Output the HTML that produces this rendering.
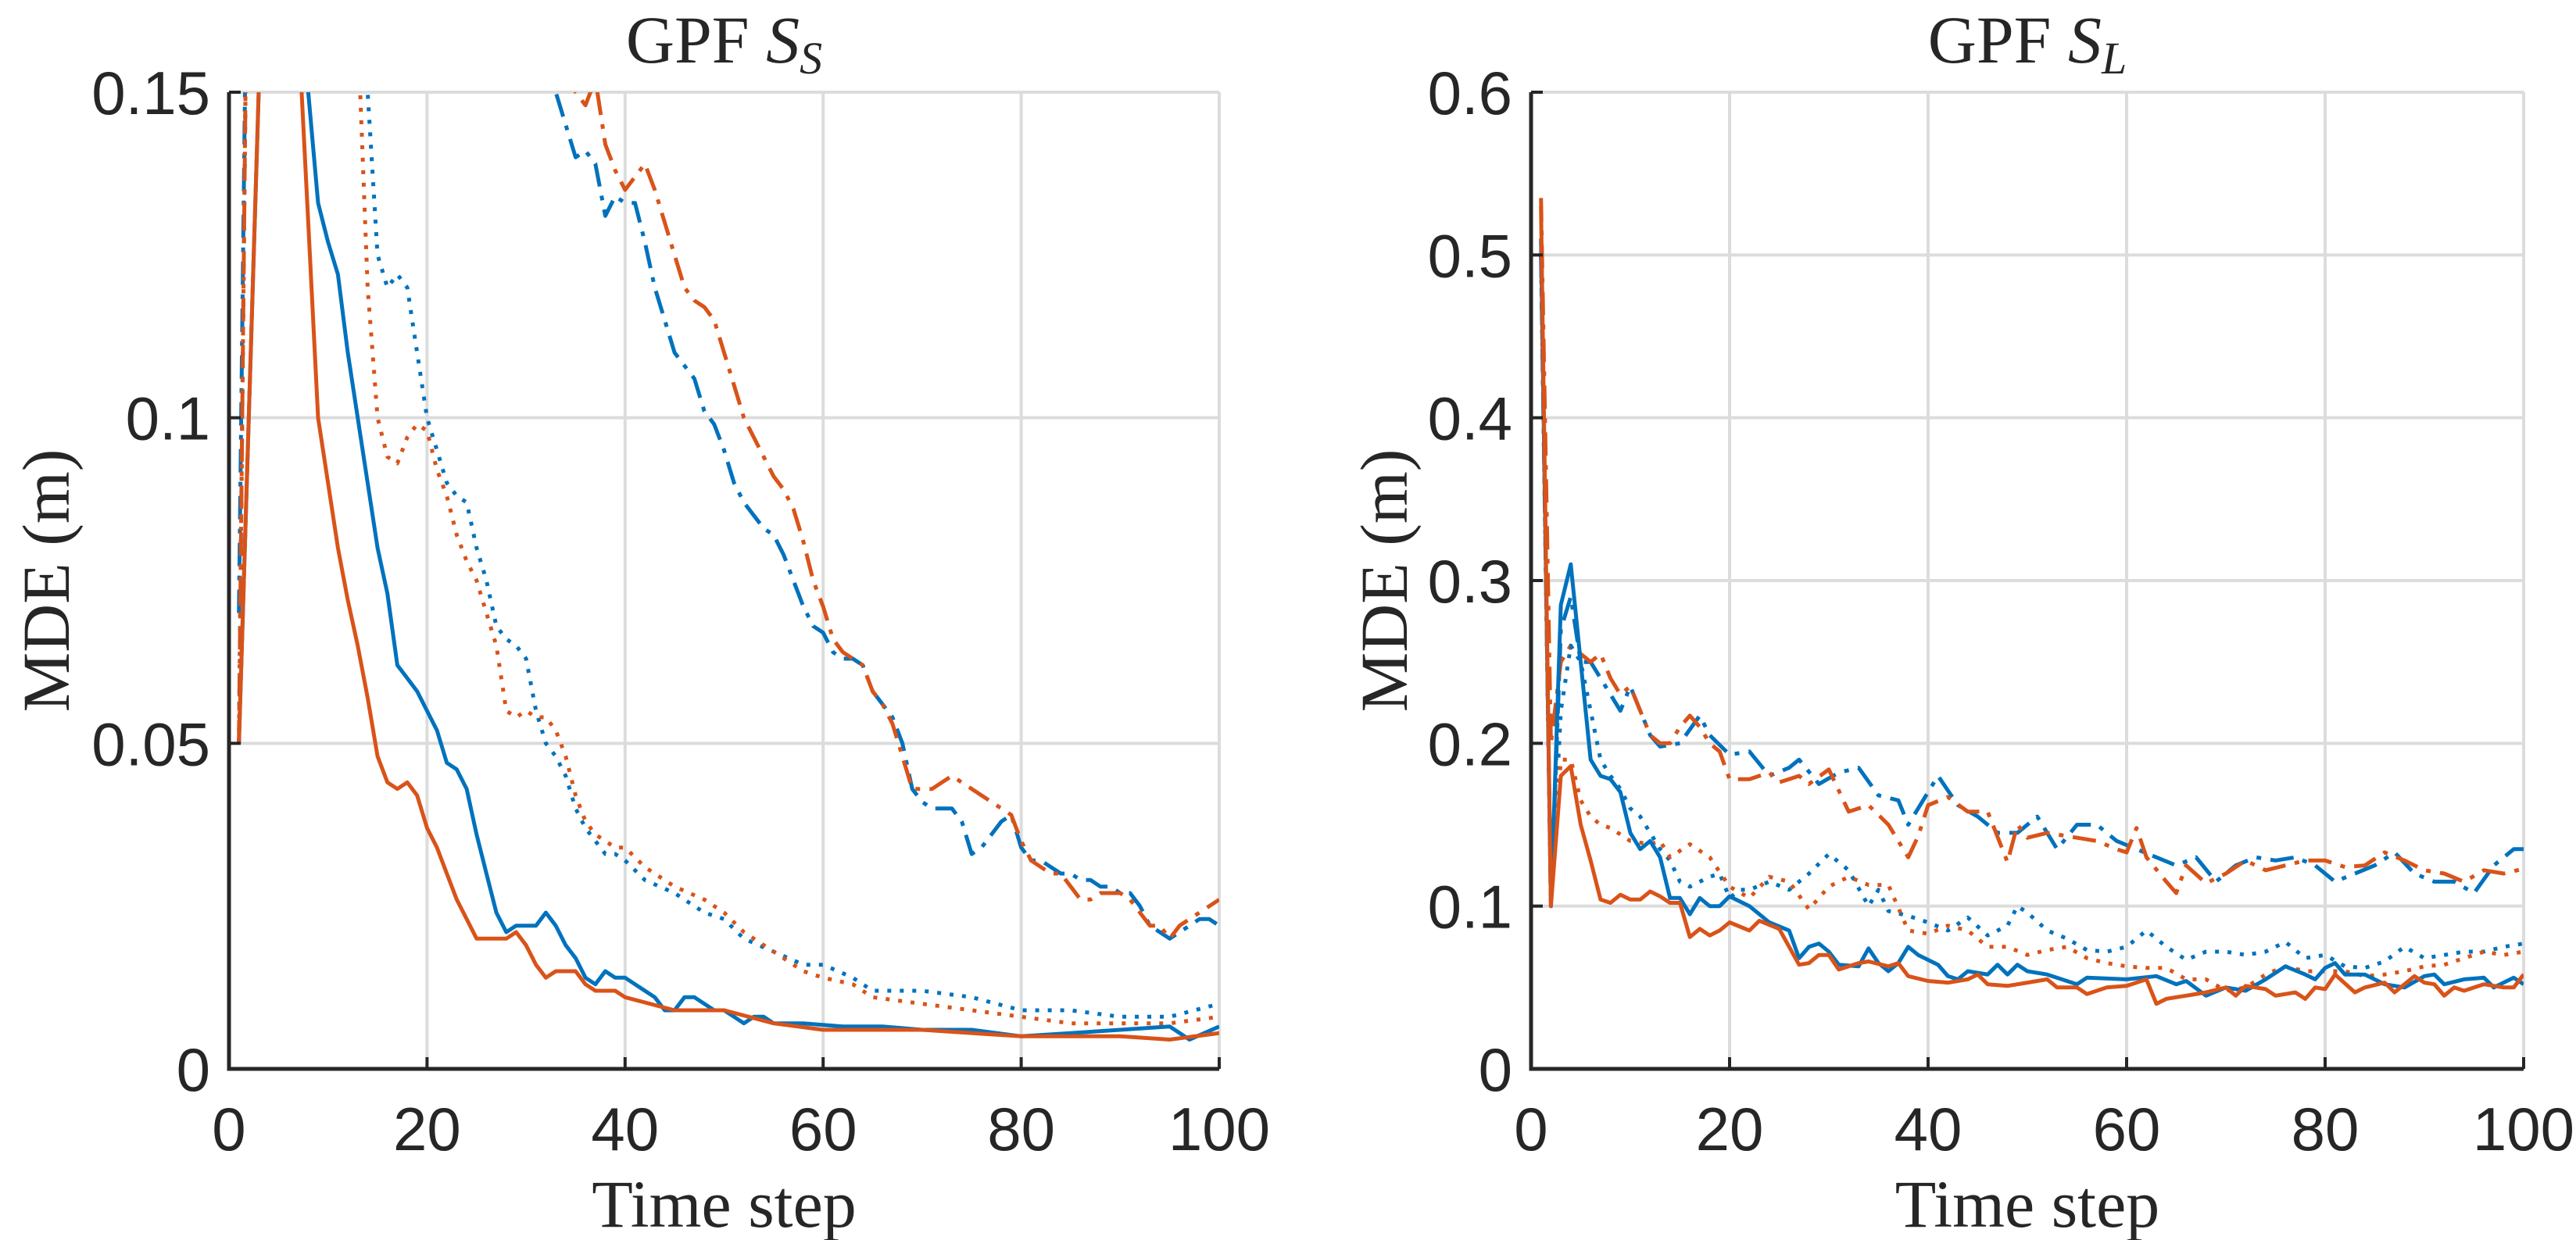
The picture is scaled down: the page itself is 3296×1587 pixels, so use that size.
<!DOCTYPE html>
<html><head><meta charset="utf-8"><style>
html,body{margin:0;padding:0;background:#fff;}
svg{display:block;}
text{fill:#262626;}
.tick{font-family:"Liberation Sans",Arial,sans-serif;font-size:78px;}
.lab{font-family:"Liberation Serif","DejaVu Serif",serif;font-size:86px;}
</style></head><body>
<svg id="chart" xmlns="http://www.w3.org/2000/svg" width="3296" height="1587" viewBox="0 0 3296 1587">
<defs>
<clipPath id="clipL"><rect x="293" y="118" width="1267" height="1250"/></clipPath>
<clipPath id="clipR"><rect x="1959" y="118" width="1270" height="1250"/></clipPath>
</defs>
</svg>
<script>
// ---- Left panel data (GPF S_S) ----
const leftSolidBlueX=[1,2,3,4,5,6,7,8,9,10,11,12,13,14,15,16,17,18,19,20,21,22,23,24,25,26,27,28,29,30,31,32,33,34,35,36,37,38,39,40,41,42,43,44,45,46,47,48,49,50,51,52,53,54,55,58,62,66,70,75,80,85,90,95,97,100];
const leftSolidBlueY=[0.05,0.1,0.15,0.2,0.25,0.25,0.22,0.15,0.133,0.127,0.122,0.11,0.1,0.09,0.08,0.073,0.062,0.06,0.058,0.055,0.052,0.047,0.046,0.043,0.036,0.03,0.024,0.021,0.022,0.022,0.022,0.024,0.022,0.019,0.017,0.014,0.013,0.015,0.014,0.014,0.013,0.012,0.011,0.009,0.009,0.011,0.011,0.01,0.009,0.009,0.008,0.007,0.008,0.008,0.007,0.007,0.0065,0.0065,0.006,0.006,0.005,0.0055,0.006,0.0065,0.0045,0.0065];
const leftSolidOrangeX=[1,2,3,4,5,6,7,8,9,10,11,12,13,14,15,16,17,18,19,20,21,22,23,24,25,26,27,28,29,30,31,32,33,34,35,36,37,38,39,40,45,50,55,60,70,80,90,95,100];
const leftSolidOrangeY=[0.05,0.1,0.15,0.2,0.22,0.2,0.16,0.13,0.1,0.09,0.08,0.072,0.065,0.057,0.048,0.044,0.043,0.044,0.042,0.037,0.034,0.03,0.026,0.023,0.02,0.02,0.02,0.02,0.021,0.019,0.016,0.014,0.015,0.015,0.015,0.013,0.012,0.012,0.012,0.011,0.009,0.009,0.007,0.006,0.006,0.005,0.005,0.0045,0.0055];
const leftDotBlueX=[1,2,5,10,14,15,16,17,18,19,20,21,22,23,24,25,26,27,28,29,30,31,32,33,34,35,36,37,38,39,40,42,45,48,50,52,55,58,60,63,65,70,75,80,85,90,95,100];
const leftDotBlueY=[0.05,0.2,0.3,0.25,0.15,0.125,0.12,0.122,0.12,0.11,0.1,0.095,0.09,0.088,0.087,0.08,0.075,0.068,0.066,0.065,0.063,0.055,0.05,0.048,0.045,0.04,0.037,0.035,0.033,0.033,0.032,0.029,0.027,0.024,0.023,0.02,0.018,0.016,0.016,0.014,0.012,0.012,0.011,0.009,0.009,0.008,0.008,0.010];
const leftDotOrangeX=[1,2,5,10,13,14,15,16,17,18,19,20,21,22,23,24,25,26,27,28,29,30,31,32,33,34,35,36,37,38,39,40,42,45,48,50,52,55,58,60,63,65,70,75,80,85,90,95,100];
const leftDotOrangeY=[0.05,0.2,0.3,0.25,0.16,0.12,0.1,0.094,0.093,0.097,0.099,0.098,0.092,0.088,0.082,0.078,0.075,0.07,0.065,0.055,0.054,0.055,0.054,0.054,0.052,0.048,0.042,0.038,0.036,0.035,0.034,0.034,0.031,0.028,0.026,0.024,0.021,0.018,0.015,0.014,0.013,0.011,0.010,0.009,0.008,0.007,0.007,0.007,0.008];
const leftDashBlueX=[1,2,10,20,30,33,34,35,36,37,38,39,40,41,42,43,44,45,46,47,48,49,50,51,52,53,54,55,56,57,58,59,60,61,62,63,64,65,66,67,68,69,70,71,72,73,74,75,76,77,78,79,80,81,82,83,84,85,86,87,88,89,90,91,92,93,94,95,96,97,98,99,100];
const leftDashBlueY=[0.07,0.2,0.4,0.3,0.2,0.15,0.145,0.14,0.141,0.139,0.131,0.134,0.133,0.133,0.127,0.12,0.115,0.11,0.108,0.106,0.101,0.099,0.095,0.09,0.087,0.085,0.083,0.082,0.079,0.075,0.071,0.068,0.067,0.064,0.063,0.063,0.062,0.058,0.056,0.054,0.05,0.043,0.041,0.040,0.040,0.040,0.038,0.033,0.034,0.036,0.038,0.039,0.034,0.032,0.032,0.031,0.030,0.030,0.029,0.029,0.028,0.028,0.027,0.027,0.025,0.022,0.021,0.020,0.021,0.022,0.023,0.023,0.022];
const leftDashOrangeX=[1,2,10,20,30,35,36,37,38,39,40,41,42,43,44,45,46,47,48,49,50,51,52,53,54,55,56,57,58,59,60,61,62,63,64,65,66,67,68,69,70,71,72,73,74,75,76,77,78,79,80,81,82,83,84,85,86,87,88,89,90,91,92,93,94,95,96,97,98,99,100];
const leftDashOrangeY=[0.05,0.2,0.4,0.3,0.2,0.15,0.148,0.152,0.142,0.138,0.135,0.137,0.139,0.135,0.13,0.125,0.12,0.118,0.117,0.115,0.11,0.105,0.1,0.097,0.094,0.091,0.089,0.086,0.081,0.075,0.071,0.066,0.064,0.063,0.062,0.058,0.056,0.053,0.048,0.043,0.043,0.043,0.044,0.045,0.044,0.043,0.042,0.041,0.040,0.039,0.035,0.032,0.031,0.03,0.03,0.028,0.026,0.026,0.027,0.027,0.027,0.026,0.024,0.022,0.022,0.02,0.022,0.023,0.024,0.025,0.026];
// ---- Right panel data (GPF S_L) ----
const rightDashOrangeX=[1,2,3,4,5,6,7,8,9,10,11,12,13,14,15,16,17,18,19,20,22,24,25,27,28,30,32,34,36,37,38,39,40,42,44,46,48,49,50,52,55,57,59,60,61,62,64,65,66,68,70,72,74,76,78,80,82,84,86,88,90,92,94,96,98,100];
const rightDashOrangeY=[0.535,0.2,0.25,0.26,0.255,0.25,0.255,0.24,0.23,0.235,0.22,0.205,0.2,0.2,0.21,0.217,0.21,0.2,0.195,0.178,0.178,0.182,0.176,0.18,0.175,0.184,0.158,0.162,0.15,0.14,0.13,0.143,0.162,0.167,0.158,0.158,0.127,0.15,0.142,0.145,0.142,0.14,0.135,0.133,0.148,0.13,0.115,0.108,0.125,0.114,0.12,0.128,0.122,0.125,0.128,0.128,0.124,0.125,0.133,0.128,0.122,0.12,0.115,0.122,0.12,0.123];
const rightDashBlueX=[1,2,3,4,5,6,7,8,9,10,12,13,15,17,18,20,22,24,26,27,29,31,33,35,37,38,40,41,43,45,47,49,51,53,55,57,59,61,63,65,67,69,71,73,75,77,79,81,83,85,87,89,91,93,95,97,99,100];
const rightDashBlueY=[0.5,0.1,0.27,0.29,0.25,0.25,0.24,0.23,0.22,0.235,0.205,0.198,0.2,0.217,0.205,0.193,0.195,0.18,0.185,0.19,0.175,0.182,0.185,0.168,0.165,0.15,0.17,0.18,0.162,0.155,0.145,0.145,0.155,0.135,0.15,0.15,0.14,0.135,0.13,0.125,0.13,0.115,0.125,0.13,0.128,0.13,0.125,0.115,0.12,0.125,0.133,0.12,0.115,0.115,0.108,0.125,0.135,0.135];
const rightSolidBlueX=[1,2,3,4,5,6,7,8,9,10,11,12,13,14,15,16,17,18,19,20,22,24,26,27,28,29,30,31,33,34,35,36,37,38,39,41,42,43,44,46,47,48,49,50,52,55,56,60,63,65,66,68,70,72,74,76,78,79,80,81,82,84,86,88,90,91,92,94,96,97,99,100];
const rightSolidBlueY=[0.51,0.1,0.285,0.31,0.25,0.19,0.18,0.178,0.17,0.145,0.135,0.14,0.13,0.105,0.105,0.095,0.105,0.1,0.1,0.106,0.1,0.09,0.085,0.068,0.075,0.077,0.072,0.064,0.063,0.074,0.065,0.06,0.065,0.075,0.07,0.064,0.057,0.055,0.06,0.058,0.064,0.058,0.064,0.06,0.058,0.052,0.056,0.055,0.057,0.052,0.054,0.045,0.05,0.048,0.055,0.063,0.058,0.055,0.062,0.065,0.058,0.058,0.052,0.05,0.057,0.058,0.052,0.055,0.056,0.05,0.056,0.052];
const rightSolidOrangeX=[1,2,3,4,5,6,7,8,9,10,11,12,13,14,15,16,17,18,19,20,22,23,25,27,28,29,30,31,33,34,36,37,38,40,42,44,45,46,48,50,52,53,55,56,58,60,62,63,64,66,68,70,71,72,74,75,77,78,79,80,81,83,84,86,87,88,89,90,91,92,93,94,96,98,99,100];
const rightSolidOrangeY=[0.53,0.1,0.18,0.186,0.15,0.128,0.104,0.102,0.107,0.104,0.104,0.109,0.106,0.102,0.102,0.081,0.086,0.082,0.085,0.09,0.085,0.091,0.086,0.064,0.065,0.07,0.07,0.061,0.065,0.066,0.063,0.065,0.057,0.054,0.053,0.055,0.058,0.052,0.051,0.053,0.055,0.05,0.05,0.046,0.05,0.051,0.055,0.04,0.043,0.045,0.047,0.05,0.045,0.051,0.049,0.045,0.047,0.043,0.05,0.049,0.058,0.047,0.05,0.053,0.047,0.052,0.057,0.053,0.052,0.045,0.05,0.048,0.052,0.05,0.05,0.058];
const rightDotBlueX=[1,2,3,4,5,6,7,8,9,10,11,12,13,14,15,16,17,18,19,20,21,22,24,26,28,30,32,34,35,36,38,40,42,44,46,48,49,50,52,54,56,58,60,62,64,66,68,70,72,74,76,78,80,82,84,86,88,90,92,94,96,98,100];
const rightDotBlueY=[0.5,0.1,0.22,0.26,0.25,0.22,0.19,0.18,0.172,0.16,0.155,0.145,0.135,0.128,0.115,0.112,0.115,0.118,0.12,0.105,0.11,0.11,0.115,0.11,0.12,0.132,0.122,0.1,0.11,0.097,0.094,0.09,0.085,0.093,0.082,0.088,0.1,0.096,0.085,0.08,0.073,0.072,0.075,0.085,0.075,0.067,0.072,0.072,0.07,0.072,0.078,0.068,0.07,0.063,0.062,0.066,0.075,0.068,0.07,0.072,0.072,0.075,0.077];
const rightDotOrangeX=[1,2,3,4,5,6,7,8,10,12,13,14,16,18,20,22,24,26,28,30,32,34,36,38,40,42,44,46,48,50,52,54,56,58,60,62,64,66,68,70,72,74,76,78,80,82,84,86,88,90,92,94,96,98,100];
const rightDotOrangeY=[0.5,0.1,0.19,0.19,0.165,0.155,0.15,0.148,0.14,0.138,0.14,0.13,0.138,0.13,0.112,0.105,0.118,0.115,0.098,0.112,0.118,0.113,0.113,0.085,0.083,0.088,0.085,0.075,0.075,0.07,0.073,0.075,0.068,0.065,0.063,0.062,0.062,0.055,0.055,0.048,0.05,0.058,0.063,0.06,0.06,0.06,0.057,0.058,0.06,0.063,0.064,0.068,0.072,0.07,0.072];
const xTicks=[0,20,40,60,80,100];
const leftYTicks=[0,0.05,0.1,0.15];
const leftYTickLabels=["0","0.05","0.1","0.15"];
const rightYTicks=[0,0.1,0.2,0.3,0.4,0.5,0.6];
const rightYTickLabels=["0","0.1","0.2","0.3","0.4","0.5","0.6"];

const NS="http://www.w3.org/2000/svg";
const svg=document.getElementById('chart');
const BLUE="#0072BD", ORANGE="#D95319";
const DOT="5 11", DASHDOT="30 12 6 12";
function mk(tag,attrs,parent){const e=document.createElementNS(NS,tag);for(const k in attrs)e.setAttribute(k,attrs[k]);(parent||svg).appendChild(e);return e;}

function panel(p){
  const {x0,x1,y0,y1,ymax,key}=p;
  const sx=v=>x0+(x1-x0)*v/100;
  const sy=v=>y1-(y1-y0)*v/ymax;
  const g=mk('g',{});
  
  
  xTicks.forEach(t=>{const l=mk('line',{x1:sx(t),x2:sx(t),y1:y0,y2:y1,stroke:'#dcdcdc','stroke-width':4},g);
    
    });
  p.yTicks.forEach(t=>{const l=mk('line',{x1:x0,x2:x1,y1:sy(t),y2:sy(t),stroke:'#dcdcdc','stroke-width':4},g);
    
    });
  const sg=mk('g',{'clip-path':'url(#'+p.clip+')'},g);
  p.series.forEach(s=>{
    const d=s.x.map((v,i)=>(i?'L':'M')+sx(v).toFixed(1)+','+sy(s.y[i]).toFixed(1)).join('');
    const a={d:d,fill:'none',stroke:s.c,'stroke-width':5,'stroke-linejoin':'round'};
    if(s.dash)a['stroke-dasharray']=s.dash;
    const path=mk('path',a,sg);
    
    
  });
  const ax=mk('path',{d:`M${x0},${y0}L${x0},${y1}L${x1},${y1}`,fill:'none',stroke:'#262626','stroke-width':5},g);
  
  
  xTicks.forEach(t=>{
    mk('line',{x1:sx(t),x2:sx(t),y1:y1,y2:y1-15,stroke:'#262626','stroke-width':4},g);
    const tx=mk('text',{x:sx(t),y:y1+104,'text-anchor':'middle',class:'tick'},g);
    tx.textContent=t;
    
    
  });
  p.yTicks.forEach((t,i)=>{
    mk('line',{x1:x0,x2:x0+15,y1:sy(t),y2:sy(t),stroke:'#262626','stroke-width':4},g);
    const tx=mk('text',{x:x0-24,y:sy(t)+28,'text-anchor':'end',class:'tick'},g);
    tx.textContent=p.yLabels[i];
    
    
  });
  const xl=mk('text',{x:(x0+x1)/2,y:1570,'text-anchor':'middle',class:'lab'},g);
  xl.textContent='Time step';
  
  
  const yl=mk('text',{x:0,y:0,'text-anchor':'middle',class:'lab',transform:`translate(${p.ylx},${(y0+y1)/2}) rotate(-90)`},g);
  yl.textContent='MDE (m)';
  
  
  const ti=mk('text',{x:(x0+x1)/2,y:80,'text-anchor':'middle',class:'lab'},g);
  
  
  ti.innerHTML='GPF <tspan font-style="italic">S</tspan><tspan font-style="italic" font-size="58" dy="14">'+p.sub+'</tspan>';
}

panel({key:'left',x0:293,x1:1560,y0:118,y1:1368,ymax:0.15,clip:'clipL',ylx:88,sub:'S',
  yTicks:leftYTicks,yLabels:leftYTickLabels,
  series:[
    {name:'left-dashdot-blue',x:leftDashBlueX,y:leftDashBlueY,c:BLUE,dash:DASHDOT},
    {name:'left-dashdot-orange',x:leftDashOrangeX,y:leftDashOrangeY,c:ORANGE,dash:DASHDOT},
    {name:'left-dotted-blue',x:leftDotBlueX,y:leftDotBlueY,c:BLUE,dash:DOT},
    {name:'left-dotted-orange',x:leftDotOrangeX,y:leftDotOrangeY,c:ORANGE,dash:DOT},
    {name:'left-solid-blue',x:leftSolidBlueX,y:leftSolidBlueY,c:BLUE},
    {name:'left-solid-orange',x:leftSolidOrangeX,y:leftSolidOrangeY,c:ORANGE}
  ]});
panel({key:'right',x0:1959,x1:3229,y0:118,y1:1368,ymax:0.6,clip:'clipR',ylx:1800,sub:'L',
  yTicks:rightYTicks,yLabels:rightYTickLabels,
  series:[
    {name:'right-dashdot-blue',x:rightDashBlueX,y:rightDashBlueY,c:BLUE,dash:DASHDOT},
    {name:'right-dashdot-orange',x:rightDashOrangeX,y:rightDashOrangeY,c:ORANGE,dash:DASHDOT},
    {name:'right-dotted-blue',x:rightDotBlueX,y:rightDotBlueY,c:BLUE,dash:DOT},
    {name:'right-dotted-orange',x:rightDotOrangeX,y:rightDotOrangeY,c:ORANGE,dash:DOT},
    {name:'right-solid-blue',x:rightSolidBlueX,y:rightSolidBlueY,c:BLUE},
    {name:'right-solid-orange',x:rightSolidOrangeX,y:rightSolidOrangeY,c:ORANGE}
  ]});
</script>
</body></html>
